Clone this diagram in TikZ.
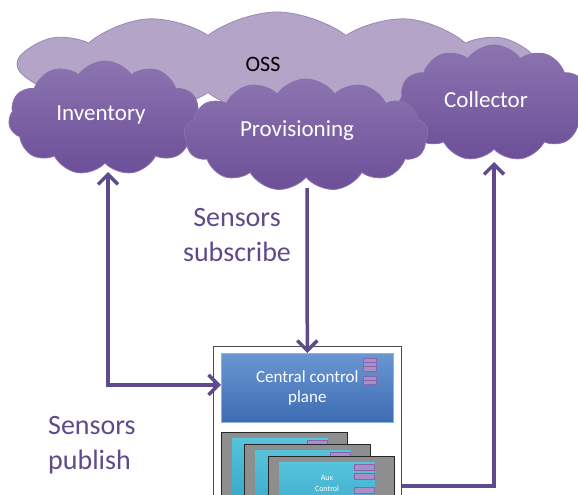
\documentclass[tikz,border=0pt]{standalone}
\usepackage{fontspec}
\setmainfont{Carlito}
\usetikzlibrary{shapes.symbols,arrows.meta,calc}
\definecolor{arrowc}{HTML}{5F4A8B}
\definecolor{ossfill}{HTML}{B3A4C8}
\definecolor{ossdraw}{HTML}{9A88B8}
\definecolor{cldtop}{HTML}{8C74B0}
\definecolor{cldbot}{HTML}{6C4F98}
\definecolor{clddraw}{HTML}{8A72AE}
\definecolor{bluetop}{HTML}{6A96D1}
\definecolor{bluebot}{HTML}{3D6CB4}
\definecolor{bluedraw}{HTML}{8FB0DD}
\definecolor{cyantop}{HTML}{56C3DB}
\definecolor{cyanbot}{HTML}{2E9FC2}
\definecolor{cardgray}{HTML}{8E8E8E}
\definecolor{barfill}{HTML}{A98FC6}
\definecolor{bardraw}{HTML}{8467AC}
\tikzset{
  cloudbase/.style={cloud, cloud puffs=#1, cloud puff arc=110, cloud ignores aspect, inner sep=0pt},
  frontcloud/.style={cloudbase=#1, top color=cldtop, bottom color=cldbot, draw=clddraw, line width=0.8pt},
  cloudtext/.style={text=white, font=\fontsize{23}{27}\selectfont, inner sep=0pt},
  tipb/.tip={Straight Barb[length=10pt,width=20pt,line width=3.5pt]},
  arr/.style={draw=arrowc, line width=3.5pt, -tipb},
  arrtwo/.style={draw=arrowc, line width=3.5pt, tipb-tipb},
  sensortext/.style={text=arrowc, font=\fontsize{28}{35}\selectfont, inner sep=0pt},
  barrow/.style={fill=barfill, draw=bardraw, line width=0.6pt},
  card/.pic={
    \fill[cardgray, draw=black!85, line width=0.8pt] (0,0) rectangle (126,90);
    \fill[top color=cyantop, bottom color=cyanbot] (11,6) rectangle (107,90);
    \draw[barrow] (86,8) rectangle (106,14);
  },
}
\begin{document}
\begin{tikzpicture}[x=1pt,y=-1pt]
\useasboundingbox (0,0) rectangle (578,495);
\clip (0,0) rectangle (578,495);

% OSS cloud
\node[cloudbase=12, cloud puff arc=75, fill=ossfill, draw=ossdraw, line width=0.8pt,
      minimum width=520pt, minimum height=104pt] (oss) at (277,64) {};
\node[inner sep=0pt, font=\fontsize{22}{26}\selectfont, text=black] (osst) at (263,64) {OSS};

% front clouds
\node[frontcloud=11, minimum width=193pt, minimum height=114pt] (inv) at (105,118) {};
\node[cloudtext] (invt) at (101,115) {Inventory};
\node[frontcloud=11, minimum width=192pt, minimum height=116pt] (col) at (494,103) {};
\node[cloudtext] (colt) at (486,100) {Collector};
\node[frontcloud=13, minimum width=244pt, minimum height=112pt] (prov) at (306,135) {};
\node[cloudtext] (provt) at (297,131) {Provisioning};

% labels
\node[sensortext, align=center] (subs) at (237,235) {Sensors\\subscribe};
\node[sensortext, align=left, anchor=west] (pub) at (48,445) {Sensors\\publish};

% device box
\node[draw=black!70, fill=white, line width=1.2pt, anchor=north west,
      minimum width=188pt, minimum height=170pt, inner sep=0pt] (outer) at (213,346) {};
\node[top color=bluetop, bottom color=bluebot, draw=bluedraw, line width=0.6pt,
      anchor=north west, minimum width=172pt, minimum height=69pt, inner sep=0pt,
      text=white, align=center, font=\fontsize{17}{20}\selectfont] (ccp) at (221,353)
      {Central control\\plane};
% stacks in central control plane
\draw[barrow] (363,358) rectangle (376,362.3);
\draw[barrow] (363,362.3) rectangle (376,366.6);
\draw[barrow] (363,366.6) rectangle (376,371);
\draw[barrow] (363,376) rectangle (376,380);
\draw[barrow] (363,380) rectangle (376,384);

% aux cards
\pic (c1) at (221,432) {card};
\pic (c2) at (244,444) {card};
\pic (c3) at (268,456) {card};
\draw[barrow] (354,473) rectangle (374,479);
\draw[barrow] (354,487) rectangle (374,493);
\node[text=white, align=center, inner sep=0pt, font=\fontsize{8}{11}\selectfont] (aux) at (327,483) {Aux\\Control};

% connectors
\coordinate (invpt) at (108,172);
\coordinate (provpt) at (307,188);
\coordinate (colpt) at (494,162);
\coordinate (rstart) at ($(outer.north east)+(0,140)$);
\draw[arrtwo] (invpt) |- ($(ccp.west)+(0,-3)$);
\draw[arr] (provpt) -- (ccp.north);
\draw[arr] (rstart) -| (colpt);
\end{tikzpicture}
\end{document}
